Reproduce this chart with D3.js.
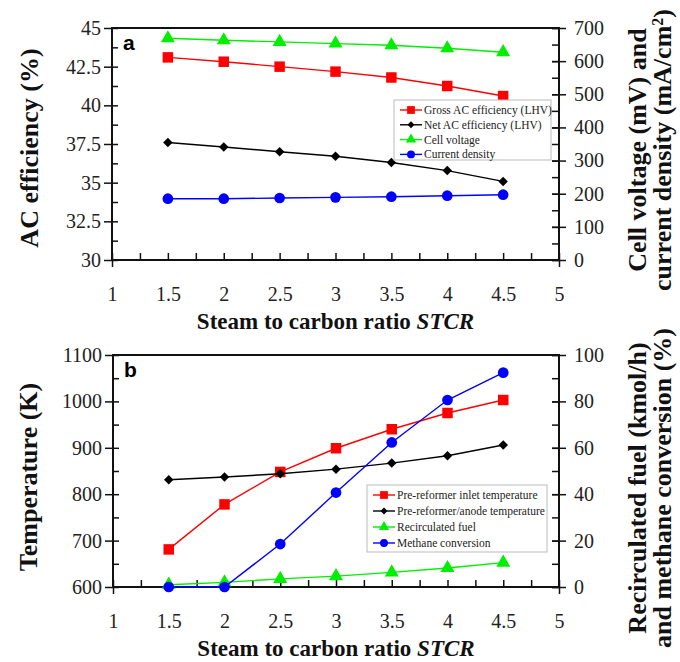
<!DOCTYPE html>
<html>
<head>
<meta charset="utf-8">
<script src="https://cdn.jsdelivr.net/npm/d3@7"></script>
<style>
  body { margin: 0; background: #fff; }
  svg text { font-family: "Liberation Serif", "Times New Roman", serif; }
  .tick text { font-size: 20px; fill: #222; }
  .legend text { fill: #222; }
</style>
</head>
<body>
<div id="chart"></div>
<script>
const stcr = [1.5, 2, 2.5, 3, 3.5, 4, 4.5];

// panel a
const grossEff = [43.1, 42.82, 42.5, 42.18, 41.8, 41.25, 40.6];
const netEff = [37.6, 37.31, 37.0, 36.71, 36.3, 35.78, 35.08];
const cellVoltage = [669, 663, 658, 653, 648, 639, 627];
const currentDensity = [185, 185, 187, 189, 191, 194, 197];

// panel b
const inletTemp = [681, 778, 848, 899, 940, 975, 1003];
const anodeTemp = [831, 837, 844, 854, 867, 883, 906];
const recircFuel = [1.0, 2.0, 3.5, 4.7, 6.3, 8.2, 10.5];
const methaneConv = [0, 0, 18.5, 40.7, 62.3, 80.6, 92.4];

const xTicks = [1, 1.5, 2, 2.5, 3, 3.5, 4, 4.5, 5];
const xTickLabels = ['1', '1.5', '2', '2.5', '3', '3.5', '4', '4.5', '5'];
const leftTicksA = [30, 32.5, 35, 37.5, 40, 42.5, 45];
const rightTicksA = [0, 100, 200, 300, 400, 500, 600, 700];
const leftTicksB = [600, 700, 800, 900, 1000, 1100];
const rightTicksB = [0, 20, 40, 60, 80, 100];

const svg = d3.select('#chart')
  .append('svg')
  .attr('width', 680)
  .attr('height', 662);

function markerPath(type, size) {
  const sym = {
    square: d3.symbolSquare,
    diamond: d3.symbolSquare,
    triangle: d3.symbolTriangle,
    circle: d3.symbolCircle,
  }[type];
  return d3.symbol().type(sym).size(size)();
}

const markerSize = { square: 110, diamond: 45, triangle: 85, circle: 90 };
const markerRot = { square: 0, diamond: 45, triangle: 0, circle: 0 };

function cleanAxis(a) {
  a.attr('font-family', null).attr('font-size', null);
  a.select('.domain').remove();
}

function drawPanel(cfg) {
  const g = svg.append('g');
  const xScale = d3.scaleLinear().domain([1, 5]).range([cfg.left, cfg.right]);
  const yL = d3.scaleLinear().domain(cfg.leftDomain).range([cfg.bottom, cfg.top]);
  const yR = d3.scaleLinear().domain(cfg.rightDomain).range([cfg.bottom, cfg.top]);
  const fmt = d => String(d);

  // minor ticks (inward)
  const xMinor = d3.range(1, 5.001, 0.25);
  g.append('g')
    .attr('transform', `translate(0,${cfg.bottom})`)
    .call(d3.axisBottom(xScale).tickValues(xMinor).tickSize(-7).tickFormat(''))
    .call(cleanAxis);
  g.append('g')
    .attr('transform', `translate(${cfg.left},0)`)
    .call(d3.axisLeft(yL).tickValues(cfg.leftMinor).tickSize(-6).tickFormat(''))
    .call(cleanAxis);
  g.append('g')
    .attr('transform', `translate(${cfg.right},0)`)
    .call(d3.axisRight(yR).tickValues(cfg.rightMinor).tickSize(-7).tickFormat(''))
    .call(cleanAxis);

  // major ticks
  g.append('g')
    .attr('transform', `translate(0,${cfg.bottom})`)
    .call(d3.axisBottom(xScale).tickValues(xTicks).tickSize(0).tickPadding(27)
      .tickFormat((d, i) => xTickLabels[i]))
    .call(cleanAxis);
  g.append('g')
    .attr('transform', `translate(0,${cfg.bottom})`)
    .call(d3.axisBottom(xScale).tickValues([1, 5]).tickSize(7).tickFormat(''))
    .call(cleanAxis);
  g.append('g')
    .attr('transform', `translate(${cfg.left},0)`)
    .call(d3.axisLeft(yL).tickValues(cfg.leftTicks).tickSize(8).tickPadding(3).tickFormat(fmt))
    .call(cleanAxis);
  g.append('g')
    .attr('transform', `translate(${cfg.right},0)`)
    .call(d3.axisRight(yR).tickValues(cfg.rightTicks).tickSize(7).tickPadding(8).tickFormat(fmt))
    .call(cleanAxis);
  g.append('g')
    .attr('transform', `translate(${cfg.right},0)`)
    .call(d3.axisRight(yR).tickValues(cfg.rightTicks).tickSize(-7).tickFormat(''))
    .call(cleanAxis);

  g.selectAll('.tick line').attr('stroke', '#111').attr('stroke-width', 1.5);

  // frame
  g.append('path')
    .attr('d', `M${cfg.left},${cfg.top}H${cfg.right}V${cfg.bottom}H${cfg.left}Z`)
    .attr('fill', 'none')
    .attr('stroke', '#111')
    .attr('stroke-width', 2);

  // series
  cfg.series.forEach(s => {
    const y = s.axis === 'left' ? yL : yR;
    const line = d3.line().x((d, i) => xScale(stcr[i])).y(d => y(d));
    g.append('path')
      .datum(s.values)
      .attr('d', line)
      .attr('fill', 'none')
      .attr('stroke', s.color)
      .attr('stroke-width', 1.4);
    g.selectAll(null)
      .data(s.values)
      .enter()
      .append('path')
      .attr('d', markerPath(s.marker, markerSize[s.marker]))
      .attr('transform', (d, i) => `translate(${xScale(stcr[i])},${y(d)}) rotate(${markerRot[s.marker]})`)
      .attr('fill', s.color);
  });

  // panel letter
  g.append('text')
    .attr('x', cfg.left + 11)
    .attr('y', cfg.top + 22)
    .style('font-family', '"Liberation Sans", Arial, sans-serif')
    .style('font-weight', 'bold')
    .style('font-size', '21px')
    .text(cfg.letter);

  // legend
  const lg = g.append('g').attr('class', 'legend');
  lg.append('rect')
    .attr('x', cfg.legend.x)
    .attr('y', cfg.legend.y)
    .attr('width', cfg.legend.w)
    .attr('height', cfg.legend.h)
    .attr('fill', '#fff')
    .attr('stroke', '#bbb')
    .attr('stroke-width', 1);
  cfg.series.forEach((s, i) => {
    const ly = cfg.legend.y + 10 + i * cfg.legend.step;
    const lx = cfg.legend.x + 6;
    lg.append('line')
      .attr('x1', lx).attr('x2', lx + 22)
      .attr('y1', ly).attr('y2', ly)
      .attr('stroke', s.color).attr('stroke-width', 1.4);
    lg.append('path')
      .attr('d', markerPath(s.marker, markerSize[s.marker] * 0.55))
      .attr('transform', `translate(${lx + 11},${ly}) rotate(${markerRot[s.marker]})`)
      .attr('fill', s.color);
    lg.append('text')
      .attr('x', lx + 24)
      .attr('y', ly + 4)
      .style('font-size', cfg.legend.font)
      .text(s.name);
  });

  // axis titles
  const bold = t => t.style('font-weight', 'bold').style('fill', '#111');
  g.append('text')
    .attr('x', (cfg.left + cfg.right) / 2)
    .attr('y', cfg.bottom + 69)
    .attr('text-anchor', 'middle')
    .style('font-size', '23px')
    .call(bold)
    .call(t => {
      t.append('tspan').text('Steam to carbon ratio ');
      t.append('tspan').style('font-style', 'italic').text('STCR');
    });
  g.append('text')
    .attr('transform', `translate(${cfg.leftTitleX},${cfg.leftTitleY}) rotate(-90)`)
    .attr('text-anchor', 'middle')
    .style('font-size', '26px')
    .call(bold)
    .text(cfg.leftTitle);
  cfg.rightTitle.forEach((txt, i) => {
    g.append('text')
      .attr('transform', `translate(${646 + i * 25},${cfg.rightTitleY}) rotate(-90)`)
      .attr('text-anchor', 'middle')
      .style('font-size', '26px')
      .call(bold)
      .call(t => {
        if (Array.isArray(txt)) {
          t.append('tspan').text(txt[0]);
          t.append('tspan').attr('baseline-shift', 'super').style('font-size', '16px').text(txt[1]);
          t.append('tspan').text(txt[2]);
        } else {
          t.text(txt);
        }
      });
  });
}

drawPanel({
  letter: 'a',
  left: 112, right: 559, top: 28, bottom: 260,
  leftDomain: [30, 45], rightDomain: [0, 700],
  leftTicks: leftTicksA, rightTicks: rightTicksA,
  leftMinor: d3.range(30, 45.01, 1.25), rightMinor: d3.range(0, 700.1, 50),
  series: [
    { name: 'Gross AC efficiency (LHV)', values: grossEff, axis: 'left', color: '#ff0000', marker: 'square' },
    { name: 'Net AC efficiency (LHV)', values: netEff, axis: 'left', color: '#000000', marker: 'diamond' },
    { name: 'Cell voltage', values: cellVoltage, axis: 'right', color: '#00ee00', marker: 'triangle' },
    { name: 'Current density', values: currentDensity, axis: 'right', color: '#0000ff', marker: 'circle' },
  ],
  legend: { x: 394, y: 100, w: 157, h: 60, step: 14.8, font: '11.5px' },
  leftTitle: 'AC efficiency (%)', leftTitleX: 38, leftTitleY: 148,
  rightTitle: ['Cell voltage (mV) and', ['current density (mA/cm', '2', ')']], rightTitleY: 150,
});

drawPanel({
  letter: 'b',
  left: 113, right: 559, top: 355, bottom: 587,
  leftDomain: [600, 1100], rightDomain: [0, 100],
  leftTicks: leftTicksB, rightTicks: rightTicksB,
  leftMinor: d3.range(600, 1100.1, 50), rightMinor: d3.range(0, 100.1, 10),
  series: [
    { name: 'Pre-reformer inlet temperature', values: inletTemp, axis: 'left', color: '#ff0000', marker: 'square' },
    { name: 'Pre-reformer/anode temperature', values: anodeTemp, axis: 'left', color: '#000000', marker: 'diamond' },
    { name: 'Recirculated fuel', values: recircFuel, axis: 'right', color: '#00ee00', marker: 'triangle' },
    { name: 'Methane conversion', values: methaneConv, axis: 'right', color: '#0000ff', marker: 'circle' },
  ],
  legend: { x: 367, y: 485, w: 180, h: 67, step: 16, font: '11.5px' },
  leftTitle: 'Temperature (K)', leftTitleX: 37, leftTitleY: 477,
  rightTitle: ['Recirculated fuel (kmol/h)', 'and methane conversion (%)'], rightTitleY: 488,
});
</script>
</body>
</html>
